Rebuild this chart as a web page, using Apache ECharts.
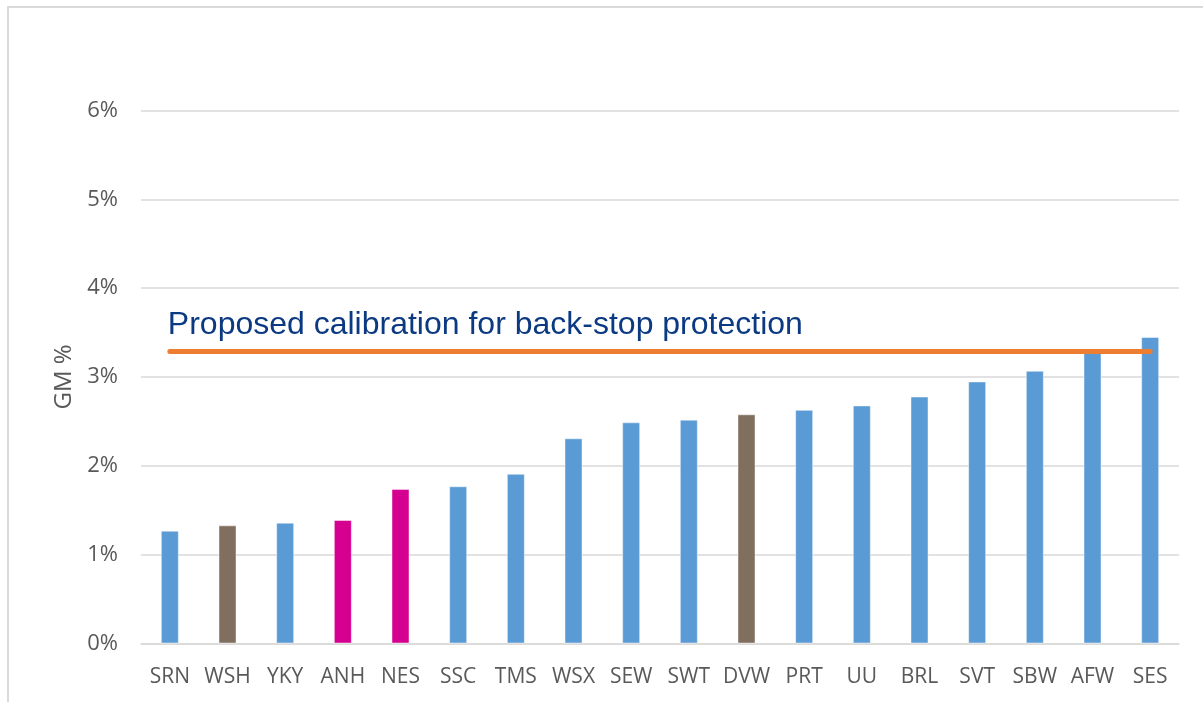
<!DOCTYPE html>
<html>
<head>
<meta charset="utf-8">
<script src="https://cdn.jsdelivr.net/npm/echarts@6/dist/echarts.min.js"></script>
<style>
  html, body { margin: 0; padding: 0; background: #ffffff; overflow: hidden; }
  #frame { position: absolute; left: 7px; top: 6px; width: 1400px; height: 900px;
           border: 2px solid #d9d9d9; box-sizing: border-box; }
  #chart { position: absolute; left: 0; top: 0; width: 1203px; height: 702px; }
</style>
</head>
<body>
<div id="frame"></div>
<div id="chart"></div>
<script>
// Company codes along the x axis
const companies = ['SRN', 'WSH', 'YKY', 'ANH', 'NES', 'SSC', 'TMS', 'WSX', 'SEW',
                   'SWT', 'DVW', 'PRT', 'UU', 'BRL', 'SVT', 'SBW', 'AFW', 'SES'];
// GM % per company
const gmValues = [1.27, 1.33, 1.36, 1.39, 1.74, 1.77, 1.91, 2.31, 2.49,
                  2.52, 2.58, 2.63, 2.68, 2.78, 2.95, 3.07, 3.30, 3.45];
// Colour group per company: 0 = standard, 1 = brown, 2 = magenta
const colourGroup = [0, 1, 0, 2, 2, 0, 0, 0, 0, 0, 1, 0, 0, 0, 0, 0, 0, 0];
const groupColours = ['#5b9bd5', '#806f5f', '#d5008f'];
// Proposed back-stop calibration level (GM %)
const backstopLevel = 3.29;
const backstopText = 'Proposed calibration for back-stop protection';
const yTicks = [0, 1, 2, 3, 4, 5, 6];

const chart = echarts.init(document.getElementById('chart'), null, { renderer: 'canvas' });

const labelFont = '"Open Sans", "Liberation Sans", sans-serif';

chart.setOption({
  backgroundColor: 'transparent',
  animation: false,
  grid: { left: 141, right: 24, top: 110.5, bottom: 58.5, containLabel: false },
  xAxis: {
    type: 'category',
    data: companies,
    axisLine: { show: true, lineStyle: { color: '#d9d9d9', width: 1.5 } },
    axisTick: { show: false },
    axisLabel: { color: '#595959', fontSize: 21, fontFamily: labelFont, margin: 23,
                 interval: 0, hideOverlap: false }
  },
  yAxis: {
    type: 'value',
    min: yTicks[0],
    max: yTicks[yTicks.length - 1],
    interval: 1,
    name: 'GM %',
    nameLocation: 'middle',
    nameGap: 64,
    nameRotate: 90,
    nameTextStyle: { color: '#595959', fontSize: 24, fontFamily: labelFont },
    axisLine: { show: false },
    axisTick: { show: false },
    splitLine: { lineStyle: { color: '#d9d9d9', width: 1.5 } },
    axisLabel: { color: '#595959', fontSize: 22, fontFamily: labelFont, margin: 23,
                 formatter: v => v + '%' }
  },
  series: [{
    type: 'bar',
    barWidth: 18,
    data: gmValues.map((v, i) => ({
      value: v,
      itemStyle: { color: groupColours[colourGroup[i]] }
    })),
    itemStyle: { borderColor: 'rgba(255,255,255,0.45)', borderWidth: 1 },
    markLine: {
      silent: true,
      symbol: ['none', 'none'],
      lineStyle: { color: '#ed7d31', width: 5, type: 'solid', cap: 'round' },
      label: {
        show: true,
        position: 'insideStartTop',
        distance: [-2, 10],
        formatter: backstopText,
        color: '#0b3a82',
        fontSize: 32,
        fontFamily: '"Liberation Sans", Arial, sans-serif'
      },
      data: [[
        { coord: [companies[0], backstopLevel] },
        { coord: [companies[companies.length - 1], backstopLevel] }
      ]]
    }
  }]
});
</script>
</body>
</html>
